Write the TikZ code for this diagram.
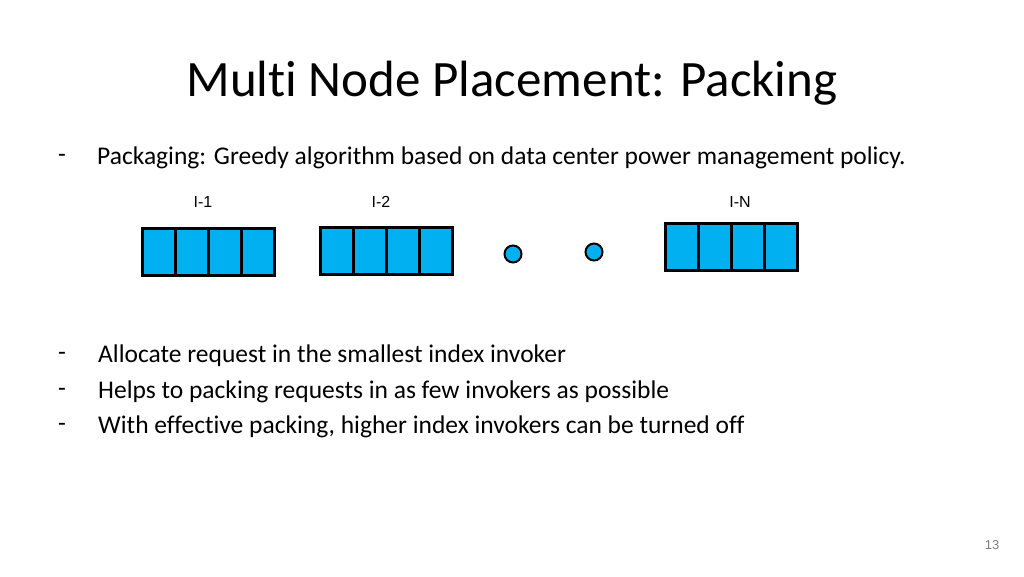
\documentclass[tikz,border=0pt]{standalone}
\usepackage{fontspec}
\setmainfont[Ligatures=NoCommon]{Carlito}
\newfontfamily\arialfont{Liberation Sans}
\usetikzlibrary{positioning}
\definecolor{cellblue}{HTML}{00B0F0}
\tikzset{
  cell/.style={draw=black,fill=cellblue,line width=2.2pt,minimum width=33pt,minimum height=47pt,inner sep=0pt},
  dot/.style={circle,draw=black,fill=cellblue,line width=2pt,minimum size=17pt,inner sep=0pt},
  lbl/.style={font=\arialfont\fontsize{16}{18}\selectfont},
  item/.style={anchor=west,font=\fontsize{25.5}{30}\selectfont,inner sep=0pt}
}
\begin{document}
\begin{tikzpicture}[x=1pt,y=-1pt]
\useasboundingbox (0,0) rectangle (1024,576);

\node (title) at (512,83) {\fontsize{51}{60}\selectfont Multi Node Placement: Packing};

\node[item] (d0) at (58,158) {-};
\node[item] (t0) at (97,158) {Packaging: Greedy algorithm based on data center power management policy.};

% invokers
\foreach \n/\x/\y in {a/159/252,b/337/251,c/682/247}{
  \foreach \i in {0,1,2,3}
    \node[cell] (\n\i) at (\x+\i*33,\y) {};
}
\node[lbl] (l1) at (203,202) {I-1};
\node[lbl] (l2) at (381,202) {I-2};
\node[lbl] (ln) at (740,202) {I-N};
\node[dot] (p1) at (513,254) {};
\node[dot] (p2) at (594,252) {};

\node[item] (d1) at (58,356) {-};
\node[item] (t1) at (98,356) {Allocate request in the smallest index invoker};
\node[item] (d2) at (58,392) {-};
\node[item] (t2) at (98,392) {Helps to packing requests in as few invokers as possible};
\node[item] (d3) at (58,427) {-};
\node[item] (t3) at (98,427) {With effective packing, higher index invokers can be turned off};

\node[text=gray,font=\arialfont\fontsize{13}{15}\selectfont] (pg) at (992,545) {13};
\end{tikzpicture}
\end{document}
